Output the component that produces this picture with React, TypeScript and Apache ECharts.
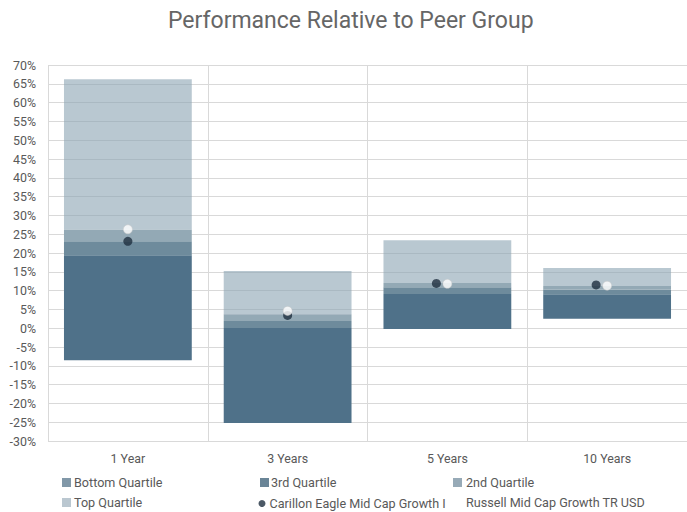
import React, { useEffect, useRef } from 'react';
import * as echarts from 'echarts';

const categories = ['1 Year', '3 Years', '5 Years', '10 Years'];
const lowVals = [-8.5, -25.2, -0.2, 2.5];
const q1Vals = [19.4, 0.05, 9.1, 9.0];
const medianVals = [23.1, 1.9, 10.9, 10.3];
const q3Vals = [26.2, 3.7, 12.0, 11.2];
const highVals = [66.2, 15.2, 23.4, 16.0];
const carillonVals = [23.1, 3.4, 11.9, 11.5];
const russellVals = [26.3, 4.6, 11.8, 11.3];
const yMin = -30;
const yMax = 70;
const yStep = 5;

const FONT = 'Roboto, "Noto Sans", sans-serif';
const TEXT = '#595959';

export default function App() {
  const ref = useRef<HTMLDivElement>(null);
  useEffect(() => {
    if (!ref.current) return;
    const chart = echarts.init(ref.current, undefined, { renderer: 'svg' });
    const diff = (a: number[], b: number[]) => a.map((v, i) => +(v - b[i]).toFixed(3));
    const barBase = {
      type: 'bar' as const,
      stack: 'q',
      stackStrategy: 'all' as const,
      barWidth: '80%',
      emphasis: { disabled: true },
    };
    const legendItem = (
      name: string,
      left: number,
      top: number,
      color: string,
      icon: string,
      size: number,
      textPad: number
    ) => ({
      data: [{ name, icon, itemStyle: { color, borderWidth: 0 } }],
      left,
      top,
      padding: 0,
      itemWidth: size,
      itemHeight: size,
      itemGap: 0,
      selectedMode: false,
      textStyle: { color: TEXT, fontSize: 12.6, fontFamily: FONT, padding: [0, 0, 0, textPad] },
    });
    chart.setOption({
      animation: false,
      title: {
        text: 'Performance Relative to Peer Group',
        left: 163,
        top: 4,
        textStyle: { color: '#666666', fontSize: 23, fontWeight: 'normal', fontFamily: FONT },
      },
      grid: { left: 48, top: 65, width: 642, bottom: 71, containLabel: false },
      legend: [
        legendItem('Bottom Quartile', 62, 476, '#8198A8', 'rect', 9, -2),
        legendItem('3rd Quartile', 260, 476, '#6A8597', 'rect', 9, -3),
        legendItem('2nd Quartile', 453, 476, '#97AAB7', 'rect', 9, -1),
        legendItem('Top Quartile', 62, 496, '#BAC7D0', 'rect', 9, -2),
        legendItem('Carillon Eagle Mid Cap Growth I', 258.5, 497, '#1F3040', 'circle', 7, -1),
        legendItem('Russell Mid Cap Growth TR USD', 453, 496, '#FFFFFF', 'circle', 9, -1),
      ],
      xAxis: {
        type: 'category',
        data: categories,
        axisLine: { show: false },
        axisTick: { show: false },
        axisLabel: { color: TEXT, fontSize: 12.4, fontFamily: FONT, margin: 11 },
        splitLine: { show: true, lineStyle: { color: '#D9D9D9', width: 1 } },
      },
      yAxis: {
        type: 'value',
        min: yMin,
        max: yMax,
        interval: yStep,
        axisLine: { show: false },
        axisTick: { show: false },
        axisLabel: { color: TEXT, fontSize: 12.4, fontFamily: FONT, margin: 12, formatter: '{value}%' },
        splitLine: { lineStyle: { color: '#D9D9D9', width: 1 } },
      },
      series: [
        { ...barBase, name: 'base', data: lowVals, itemStyle: { color: 'rgba(0,0,0,0)' } },
        { ...barBase, name: 'Bottom Quartile', data: diff(q1Vals, lowVals), itemStyle: { color: '#4F7189' } },
        { ...barBase, name: '3rd Quartile', data: diff(medianVals, q1Vals), itemStyle: { color: '#6E8B9C' } },
        { ...barBase, name: '2nd Quartile', data: diff(q3Vals, medianVals), itemStyle: { color: '#93A9B5' } },
        { ...barBase, name: 'Top Quartile', data: diff(highVals, q3Vals), itemStyle: { color: 'rgba(138,163,178,0.6)' } },
        {
          type: 'scatter',
          name: 'Carillon Eagle Mid Cap Growth I',
          z: 5,
          symbolSize: 9,
          itemStyle: { color: '#1F3040' },
          emphasis: { disabled: true },
          data: carillonVals.map((v, i) => (i >= 2 ? { value: v, symbolOffset: [-11, 0] } : v)),
        },
        {
          type: 'scatter',
          name: 'Russell Mid Cap Growth TR USD',
          z: 6,
          symbolSize: 9,
          itemStyle: { color: '#FFFFFF', borderColor: '#C8C8C8', borderWidth: 0.6 },
          emphasis: { disabled: true },
          data: russellVals,
        },
      ],
    });
    return () => chart.dispose();
  }, []);
  return <div ref={ref} style={{ width: 687, height: 512, position: 'absolute', left: 0, top: 0 }} />;
}
